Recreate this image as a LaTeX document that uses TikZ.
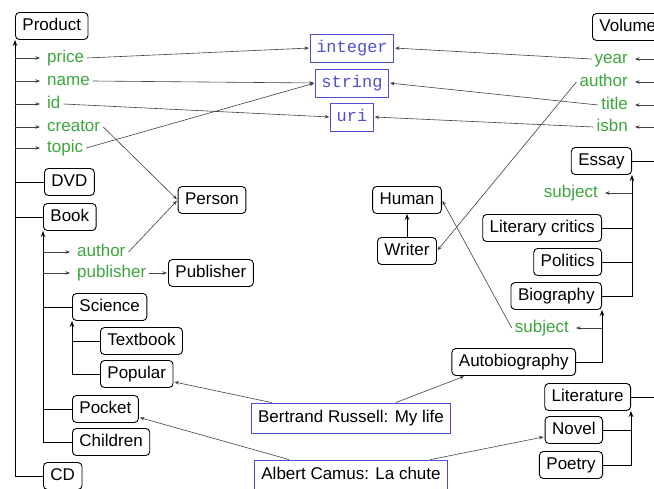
\documentclass[tikz,border=0pt]{standalone}
\usepackage{fontspec}
\setmainfont{Liberation Sans}
\setmonofont{Liberation Mono}
\usetikzlibrary{arrows.meta}
\definecolor{propgreen}{RGB}{60,165,60}
\definecolor{typeblue}{RGB}{80,80,205}
\begin{document}
\begin{tikzpicture}[x=1pt,y=-1pt,
  cls/.style={draw, rounded corners=4pt, line width=0.9pt, inner xsep=7pt, inner ysep=0pt,
              minimum height=27pt, text height=12.5pt, text depth=3.5pt,
              font=\fontsize{17}{20}\selectfont},
  prop/.style={text=propgreen, inner sep=3pt, text height=12.5pt, text depth=3.5pt,
               font=\fontsize{17}{20}\selectfont},
  dtype/.style={draw=typeblue, text=typeblue, line width=0.8pt, inner xsep=6pt, inner ysep=0pt,
                minimum height=28pt, text height=12.5pt, text depth=3.5pt,
                font=\ttfamily\fontsize{17}{20}\selectfont},
  inst/.style={draw=typeblue, line width=0.9pt, inner xsep=7pt, inner ysep=0pt,
               minimum height=30pt, text height=12.5pt, text depth=3.5pt,
               font=\fontsize{17}{20}\selectfont},
  branch/.style={line width=1pt},
  isa/.style={line width=1pt, -{Stealth[length=6pt,width=4.5pt]}},
  rng/.style={line width=0.6pt, draw=black!75, -{Stealth[length=4.5pt,width=3.5pt]}, shorten >=1pt},
  dom/.style={rng, shorten >=4pt},
]
\useasboundingbox (0,0) rectangle (654,488);
\clip (0,0) rectangle (654,488);

% ---- Product side ----
\node[cls, anchor=west] (product) at (15,26) {Product};
\node[prop, anchor=west] (price) at (44,58) {price};
\node[prop, anchor=west] (name) at (44,81) {name};
\node[prop, anchor=west] (id) at (44,104) {id};
\node[prop, anchor=west] (creator) at (44,127) {creator};
\node[prop, anchor=west] (topic) at (44,148) {topic};
\node[cls, anchor=west] (dvd) at (44,182) {DVD};
\node[cls, anchor=west] (book) at (43,217) {Book};
\node[prop, anchor=west] (bauthor) at (74,252) {author};
\node[prop, anchor=west] (bpublisher) at (74,273) {publisher};
\node[cls] (person) at (212,200) {Person};
\node[cls, anchor=west] (publisher) at (168,273) {Publisher};
\node[cls, anchor=west] (science) at (72,307) {Science};
\node[cls, anchor=west] (textbook) at (100,341) {Textbook};
\node[cls, anchor=west] (popular) at (100,374) {Popular};
\node[cls, anchor=west] (pocket) at (72,409) {Pocket};
\node[cls, anchor=west] (children) at (72,442) {Children};
\node[cls, anchor=west] (cd) at (43,476) {CD};

% ---- datatypes ----
\node[dtype] (integer) at (352,48) {integer};
\node[dtype] (string) at (352,83) {string};
\node[dtype] (uri) at (352,117) {uri};

% ---- Volume side ----
\node[cls, anchor=west] (volume) at (592,27) {Volume};
\node[prop, anchor=east] (year) at (631,59) {year};
\node[prop, anchor=east] (vauthor) at (631,82) {author};
\node[prop, anchor=east] (title) at (631,105) {title};
\node[prop, anchor=east] (isbn) at (631,127) {isbn};
\node[cls, anchor=east] (essay) at (632,161) {Essay};
\node[prop, anchor=east] (esubject) at (601,193) {subject};
\node[cls, anchor=east] (critics) at (602,228) {Literary critics};
\node[cls, anchor=east] (politics) at (602,262) {Politics};
\node[cls, anchor=east] (biography) at (602,296) {Biography};
\node[prop, anchor=east] (bsubject) at (572,328) {subject};
\node[cls, anchor=east] (autobio) at (576,362) {Autobiography};
\node[cls, anchor=east] (literature) at (631,397) {Literature};
\node[cls, anchor=east] (novel) at (603,430) {Novel};
\node[cls, anchor=east] (poetry) at (603,465) {Poetry};
\node[cls] (human) at (407,200) {Human};
\node[cls] (writer) at (407,251) {Writer};

% ---- instances ----
\node[inst] (russell) at (351,418) {Bertrand Russell: My life};
\node[inst] (camus) at (351,475) {Albert Camus: La chute};

% ---- class hierarchy, left ----
\draw[isa] (cd.west) -| (product.south west);
\foreach \n in {dvd,book} \draw[branch] (product.south west |- \n.west) -- (\n.west);
\foreach \n in {price,name,id,creator,topic} \draw[dom] (product.south west |- \n.west) -- (\n.west);
\draw[isa] (children.west) -| (book.south west);
\foreach \n in {science,pocket} \draw[branch] (book.south west |- \n.west) -- (\n.west);
\foreach \n in {bauthor,bpublisher} \draw[dom] (book.south west |- \n.west) -- (\n.west);
\draw[isa] (popular.west) -| (science.south west);
\draw[branch] (science.south west |- textbook.west) -- (textbook.west);

% ---- class hierarchy, right ----
\draw[isa] (literature.east) -| (volume.south east);
\draw[branch] (volume.south east |- essay.east) -- (essay.east);
\foreach \n in {year,vauthor,title,isbn} \draw[dom] (volume.south east |- \n.east) -- (\n.east);
\draw[isa] (biography.east) -| (essay.south east);
\foreach \n in {critics,politics} \draw[branch] (essay.south east |- \n.east) -- (\n.east);
\draw[dom] (essay.south east |- esubject.east) -- (esubject.east);
\draw[isa] (autobio.east) -| (biography.south east);
\draw[dom] (biography.south east |- bsubject.east) -- (bsubject.east);
\draw[isa] (poetry.east) -| (literature.south east);
\draw[branch] (literature.south east |- novel.east) -- (novel.east);
\draw[isa] (writer.north) -- (human.south);

% ---- property ranges ----
\draw[rng] (price.east) -- (integer.west);
\draw[rng] (name.east) -- (string.west);
\draw[rng] (id.east) -- (uri.west);
\draw[rng] (topic.east) -- (string.west);
\draw[rng] (creator.east) -- (person.west);
\draw[rng] (bauthor.east) -- (person.west);
\draw[rng] (bpublisher.east) -- (publisher.west);
\draw[rng] (year.west) -- (integer.east);
\draw[rng] (title.west) -- (string.east);
\draw[rng] (isbn.west) -- (uri.east);
\draw[rng] (vauthor.west) -- (writer.east);
\draw[rng] (bsubject.west) -- (human.east);

% ---- instance typing ----
\draw[rng] (russell.169.5) -- (popular.348);
\draw[rng] (russell.19.7) -- (autobio.196);
\draw[rng] (camus.166.7) -- (pocket.346.5);
\draw[rng] (camus.11.8) -- (novel.193);
\end{tikzpicture}
\end{document}
